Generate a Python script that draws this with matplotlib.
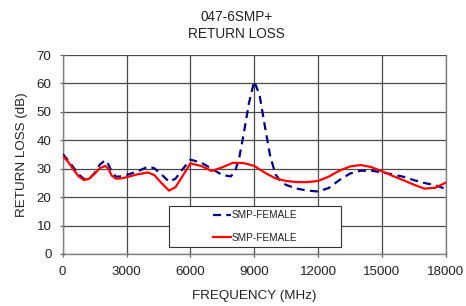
import numpy as np
import matplotlib.pyplot as plt
from matplotlib.patches import Rectangle

plt.rcParams['font.family'] = ['Liberation Sans', 'DejaVu Sans']

# Data
freq_blue = [0, 250, 500, 750, 1000, 1250, 1500, 1750, 2000, 2150, 2300, 2500, 2750, 3000,
             3500, 4000, 4300, 4600, 5000, 5300, 5600, 6000, 6500, 7000, 7500, 7900,
             8100, 8300, 8500, 8750, 9000, 9250, 9500, 9750, 10000, 10250, 10500, 11000,
             11500, 12000, 12500, 13000, 13500, 14000, 14500, 15000, 15500, 16000,
             16500, 17000, 17500, 18000]
rl_blue = [35.2, 33, 30.5, 28, 26.4, 26.5, 28.5, 31.5, 33, 31.5, 29, 27.2, 27.3, 27.8,
           29, 30.7, 30.2, 28.3, 25.4, 26.5, 29.5, 33.2, 32.2, 30, 27.8, 27.3,
           29, 34, 42, 53, 60.8, 56, 45, 34.5, 28, 25.5, 24.3, 23,
           22.3, 22, 23.2, 26, 28.3, 29.3, 29.3, 28.8, 28, 27.2,
           26, 25, 24.2, 22.9]

freq_red = [0, 250, 500, 750, 1000, 1250, 1500, 1750, 2000, 2150, 2300, 2500, 2750, 3000,
            3500, 4000, 4300, 4600, 5000, 5300, 5600, 6000, 6500, 7000, 7500, 8000,
            8500, 9000, 9500, 10000, 10500, 11000, 11500, 12000, 12500, 13000, 13500,
            14000, 14500, 15000, 15500, 16000, 16500, 17000, 17500, 18000]
rl_red = [34.5, 32.5, 29.8, 27.3, 26, 26.5, 28.2, 30.2, 31, 30, 27.6, 26.5, 26.6, 27,
          28, 28.7, 27.8, 25.3, 22.3, 23.5, 27, 31.9, 31, 29.2, 30.5, 32.1,
          32, 31, 28.6, 26.6, 25.7, 25.3, 25.3, 25.7, 27.2, 29.3, 30.8,
          31.3, 30.6, 29.1, 27.5, 26, 24.4, 23, 23.3, 25.1]

my_dpi = 100
fig = plt.figure(figsize=(466 / my_dpi, 306 / my_dpi), dpi=my_dpi)
ax = fig.add_axes([0.1345, 0.170, 0.822, 0.650])

ax.plot(freq_blue, rl_blue, color='#000080', linestyle=(0, (3.6, 2.4)), linewidth=1.6,
        label='SMP-FEMALE', zorder=3)
ax.plot(freq_red, rl_red, color='#ff0000', linestyle='-', linewidth=1.6,
        label='SMP-FEMALE', zorder=3)

ax.set_xlim(0, 18000)
ax.set_ylim(0, 70)
ax.set_xticks(np.arange(0, 18001, 3000))
ax.set_yticks(np.arange(0, 71, 10))
ax.grid(True, color='#4a4a4a', linewidth=0.9)
for sp in ax.spines.values():
    sp.set_color('#808080')
    sp.set_linewidth(1.0)
ax.spines['top'].set_visible(False)
ax.tick_params(direction='inout', length=4, width=0.9, color='#606060',
               labelsize=9.6, labelcolor='#222222', pad=7)
ax.tick_params(axis='y', pad=6)

ax.set_xlabel('FREQUENCY (MHz)', fontsize=9.6, color='#222222', va='center')
ax.xaxis.set_label_coords(0.5, -0.21)
ax.set_ylabel('RETURN LOSS (dB)', fontsize=9.6, color='#222222', labelpad=6)

fig.text(0.508, 0.943, '047-6SMP+', ha='center', va='center', fontsize=9.8, color='#222222')
fig.text(0.508, 0.890, 'RETURN LOSS', ha='center', va='center', fontsize=9.8, color='#222222')

# legend box (wider than its content, content centred)
box = Rectangle((0.277, 0.035), 0.45, 0.206, transform=ax.transAxes, facecolor='white',
                edgecolor='#333333', linewidth=0.8, zorder=4)
ax.add_patch(box)
leg = ax.legend(loc='center', bbox_to_anchor=(0.502, 0.138), frameon=False,
                fontsize=7.2, handlelength=1.85, handletextpad=0.0,
                borderpad=0.0, labelspacing=1.25)
leg.set_zorder(5)
for t in leg.get_texts():
    t.set_color('#222222')

plt.savefig('out.png', dpi=my_dpi)
